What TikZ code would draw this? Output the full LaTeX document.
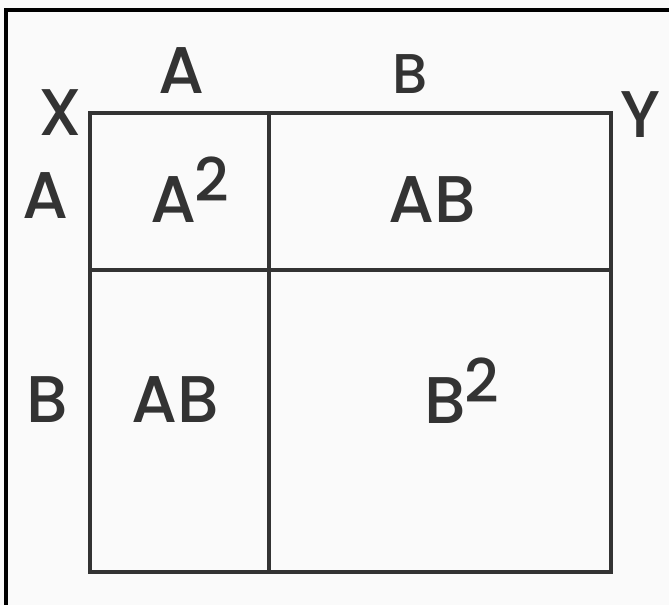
\documentclass[tikz,border=0pt]{standalone}
\usepackage{fontspec}
\setmainfont{Poppins}[UprightFont=* Medium]
\usepackage{tikz}
\usetikzlibrary{positioning}

\definecolor{ink}{HTML}{333333}
\newcommand{\sq}[1]{\raisebox{21pt}{\fontsize{60}{60}\selectfont #1}}

\begin{document}
\begin{tikzpicture}[
  x=1pt, y=-1pt,
  lbl/.style={inner sep=0pt, anchor=base, text=ink,
    font=\fontsize{66}{66}\selectfont},
  grid/.style={draw=ink, line width=4pt, line cap=rect}
]
\useasboundingbox[fill=gray!4] (0,0) rectangle (669,605);
% scan frame
\draw[line width=4pt] (669,10) -| (6,605);

% the square and its dividers
\draw[grid] (90,113) rectangle (611,572);
\draw[grid] (269,113) -- (269,572);
\draw[grid] (90,270) -- (611,270);

% corner and side labels
\node[lbl] (x)  at (60,135)  {X};
\node[lbl] (y)  at (640,137) {Y};
\node[lbl] (ta) at (181,93)  {A};
\node[lbl, font=\fontsize{56}{56}\selectfont] (tb) at (410,93) {B};
\node[lbl] (la) at (46,218)  {A};
\node[lbl] (lb) at (47,422)  {B};

% products
\node[lbl] (aa) at (190,222) {A\kern-2pt\sq{2}};
\node[lbl] (ab) at (432,222) {AB};
\node[lbl] (ba) at (175,422) {AB};
\node[lbl] (bb) at (462,423) {B\kern-2pt\sq{2}};
\end{tikzpicture}
\end{document}
